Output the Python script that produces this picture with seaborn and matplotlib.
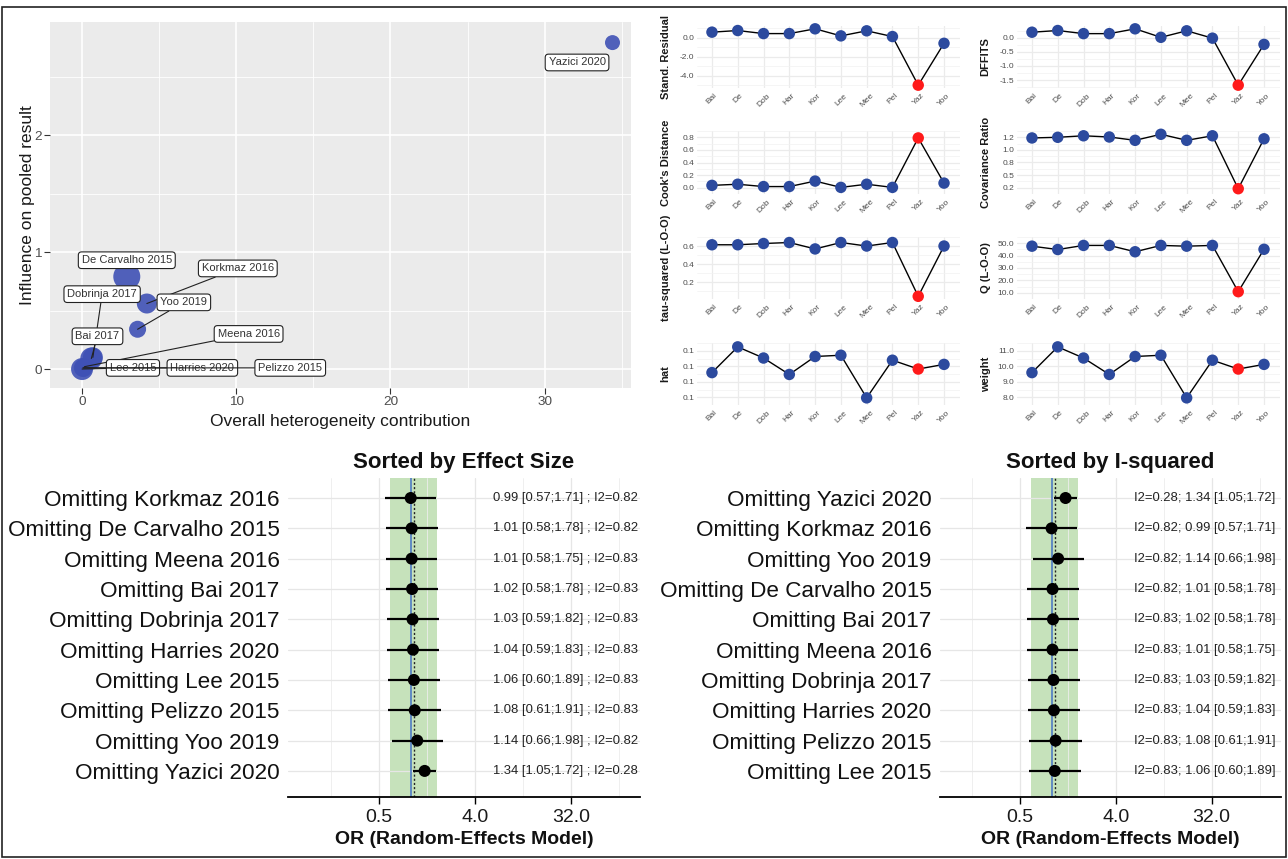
import numpy as np
import pandas as pd
import matplotlib
matplotlib.use("Agg")
import matplotlib.pyplot as plt
import seaborn as sns
from matplotlib.patches import Rectangle

sns.set_theme(style="white")
plt.rcParams['font.family'] = ['Liberation Sans', 'DejaVu Sans']

# ---------------- data ----------------
studies = ["Bai 2017", "De Carvalho 2015", "Dobrinja 2017", "Harries 2020", "Korkmaz 2016",
           "Lee 2015", "Meena 2016", "Pelizzo 2015", "Yazici 2020", "Yoo 2019"]
short_names = ["Bai", "De", "Dob", "Har", "Kor", "Lee", "Mee", "Pel", "Yaz", "Yoo"]

# Baujat plot
het_contrib = [0.6, 2.9, 0.7, 0.1, 4.2, 0.0, 0.15, 0.05, 34.4, 3.6]
influence = [0.09, 0.79, 0.10, 0.01, 0.56, 0.0, 0.02, 0.01, 2.79, 0.34]
point_weight = [22, 27, 20, 18, 20, 22, 16, 18, 15, 17]

# influence diagnostics
stand_resid = [0.57, 0.74, 0.42, 0.42, 0.92, 0.18, 0.71, 0.11, -4.99, -0.60]
dffits = [0.19, 0.25, 0.14, 0.14, 0.31, 0.01, 0.24, -0.02, -1.68, -0.24]
cooks_d = [0.037, 0.055, 0.018, 0.018, 0.105, 0.005, 0.055, 0.005, 0.79, 0.073]
cov_ratio = [1.237, 1.25, 1.28, 1.256, 1.19, 1.31, 1.19, 1.28, 0.23, 1.22]
tau2_loo = [0.614, 0.614, 0.628, 0.639, 0.568, 0.639, 0.600, 0.639, 0.044, 0.600]
q_loo = [47.6, 44.9, 48.2, 48.2, 43.1, 48.2, 47.6, 48.2, 10.9, 45.1]
hat_vals = [0.0959, 0.1125, 0.1053, 0.0947, 0.1063, 0.1071, 0.0796, 0.1039, 0.0982, 0.1012]
weight_vals = [9.59, 11.25, 10.53, 9.47, 10.63, 10.71, 7.96, 10.39, 9.82, 10.12]

# leave-one-out forest (sorted by effect size)
es_order = ["Korkmaz 2016", "De Carvalho 2015", "Meena 2016", "Bai 2017", "Dobrinja 2017",
            "Harries 2020", "Lee 2015", "Pelizzo 2015", "Yoo 2019", "Yazici 2020"]
es_or = [0.99, 1.01, 1.01, 1.02, 1.03, 1.04, 1.06, 1.08, 1.14, 1.34]
es_lo = [0.57, 0.58, 0.58, 0.58, 0.59, 0.59, 0.60, 0.61, 0.66, 1.05]
es_hi = [1.71, 1.78, 1.75, 1.78, 1.82, 1.83, 1.89, 1.91, 1.98, 1.72]
es_i2 = [0.82, 0.82, 0.83, 0.83, 0.83, 0.83, 0.83, 0.83, 0.82, 0.28]
# order sorted by I-squared
i2_order = ["Yazici 2020", "Korkmaz 2016", "Yoo 2019", "De Carvalho 2015", "Bai 2017",
            "Meena 2016", "Dobrinja 2017", "Harries 2020", "Pelizzo 2015", "Lee 2015"]
pooled_or = 1.06
pooled_lo = 0.63
pooled_hi = 1.77
null_or = 1.0

# ---------------- layout helpers ----------------
W, H = 1288, 859
fig = plt.figure(figsize=(W / 100, H / 100), dpi=100)
fig.patch.set_facecolor("white")


def add_ax(x0, y0, x1, y1):
    return fig.add_axes([x0 / W, 1 - y1 / H, (x1 - x0) / W, (y1 - y0) / H])


# ---------------- Baujat plot ----------------
ax = add_ax(50, 22, 631, 388)
ax.set_facecolor("#EBEBEB")
for sp in ax.spines.values():
    sp.set_visible(False)
sizes = (np.array(point_weight) * 0.72) ** 2
sns.scatterplot(x=het_contrib, y=influence, s=sizes, color="#3F51B5", alpha=0.9,
                edgecolor="none", legend=False, ax=ax, zorder=3)
ax.set_xlim(-2.08, 35.6)
ax.set_ylim(-0.162, 2.966)
ax.set_xticks([0, 10, 20, 30])
ax.set_xticklabels(["0", "10", "20", "30"])
ax.set_yticks([0, 1, 2])
ax.set_yticklabels(["0", "1", "2"])
ax.set_xticks([5, 15, 25, 35], minor=True)
ax.set_yticks([0.5, 1.5, 2.5], minor=True)
ax.grid(which="major", color="white", lw=1.2)
ax.grid(which="minor", color="white", lw=0.6)
ax.set_axisbelow(True)
ax.tick_params(which="major", length=4, width=0.8, color="#333333",
               labelcolor="#4D4D4D", labelsize=9.7, pad=2, bottom=True, left=True)
ax.tick_params(which="minor", length=0)
ax.set_xlabel("Overall heterogeneity contribution", fontsize=12.5, color="#1a1a1a", labelpad=4)
ax.set_ylabel("Influence on pooled result", fontsize=12.5, color="#1a1a1a", labelpad=-1)

label_pos = {
    "Yazici 2020": (32.1, 2.62),
    "De Carvalho 2015": (2.9, 0.93),
    "Korkmaz 2016": (10.1, 0.86),
    "Dobrinja 2017": (1.3, 0.64),
    "Yoo 2019": (6.6, 0.57),
    "Bai 2017": (1.0, 0.28),
    "Meena 2016": (10.8, 0.30),
    "Lee 2015": (3.3, 0.01),
    "Harries 2020": (7.8, 0.01),
    "Pelizzo 2015": (13.5, 0.01),
}
no_segment = {"Yazici 2020", "De Carvalho 2015"}
for name, (tx, ty) in label_pos.items():
    i = studies.index(name)
    kw = {}
    if name not in no_segment:
        kw["arrowprops"] = dict(arrowstyle="-", color="#222222", lw=0.8, shrinkA=0, shrinkB=0)
    ax.annotate(name, xy=(het_contrib[i], influence[i]), xytext=(tx, ty),
                ha="center", va="center", fontsize=8, color="#333333", zorder=5,
                bbox=dict(boxstyle="round,pad=0.3", fc="white", ec="#222222", lw=0.8), **kw)

# ---------------- diagnostic panels ----------------
panels = [
    ("Stand. Residual", stand_resid, [-4, -2, 0]),
    ("DFFITS", dffits, [-1.5, -1.0, -0.5, 0.0]),
    ("Cook's Distance", cooks_d, [0.0, 0.2, 0.4, 0.6, 0.8]),
    ("Covariance Ratio", cov_ratio, [0.25, 0.5, 0.75, 1.0, 1.25]),
    ("tau-squared (L-O-O)", tau2_loo, [0.2, 0.4, 0.6]),
    ("Q (L-O-O)", q_loo, [10, 20, 30, 40, 50]),
    ("hat", hat_vals, [0.08, 0.09, 0.10, 0.11]),
    ("weight", weight_vals, [8, 9, 10, 11]),
]
rows = [(26, 88), (131, 194), (237, 299), (343, 405)]
cols = [(697, 960), (1017, 1280)]
for k, (name, vals, ticks) in enumerate(panels):
    r, c = divmod(k, 2)
    ax = add_ax(cols[c][0], rows[r][0], cols[c][1], rows[r][1])
    df = pd.DataFrame({"study": short_names, "val": vals,
                       "hl": ["hi" if s == "Yaz" else "lo" for s in short_names]})
    sns.lineplot(data=df, x="study", y="val", color="black", lw=1.0, sort=False, ax=ax, zorder=2)
    sns.scatterplot(data=df, x="study", y="val", hue="hl",
                    palette={"lo": "#2C4A9E", "hi": "#FF1A1A"}, s=68, edgecolor="none",
                    legend=False, ax=ax, zorder=3, clip_on=False)
    for sp in ax.spines.values():
        sp.set_visible(False)
    vmin, vmax = min(vals), max(vals)
    pad = (vmax - vmin) * 0.05
    ax.set_ylim(vmin - pad, vmax + pad)
    ax.set_xlim(-0.58, 9.62)
    ax.set_yticks(ticks)
    ax.set_yticklabels(["%.1f" % t for t in ticks])
    step = ticks[1] - ticks[0]
    ax.set_yticks([t - step / 2 for t in ticks] + [ticks[-1] + step / 2], minor=True)
    ax.grid(which="major", color="#EBEBEB", lw=0.9)
    ax.grid(which="minor", axis="y", color="#F2F2F2", lw=0.5)
    ax.set_axisbelow(True)
    ax.tick_params(axis="both", which="both", length=0, labelsize=6, labelcolor="#4D4D4D", pad=2)
    ax.tick_params(axis="x", rotation=45, pad=3)
    for lab in ax.get_xticklabels():
        lab.set_ha("center")
    ax.set_xlabel("")
    ax.set_ylabel(name, fontsize=8, fontweight="bold", color="#1a1a1a")
    ax.yaxis.set_label_coords(-0.1, 0.5)

# ---------------- forest plots ----------------
def forest(ax, labels, ors, los, his, texts, title, xlim_log2):
    y = np.arange(len(labels))
    ax.axvspan(pooled_lo, pooled_hi, color="#C6E2BB", zorder=0, lw=0)
    ax.axvline(null_or, color="#4472C4", lw=1.1, zorder=1)
    ax.axvline(pooled_or, color="#222222", lw=1.0, ls=(0, (1.5, 1.5)), zorder=1)
    ax.hlines(y, los, his, color="black", lw=1.6, zorder=3)
    sns.scatterplot(x=ors, y=y, color="black", s=75, edgecolor="none", legend=False,
                    ax=ax, zorder=4)
    for yi, t in zip(y, texts):
        ax.text(5.9, yi, t, va="center", ha="left", fontsize=9.4, color="#222222", zorder=5)
    ax.set_xscale("log", base=2)
    ax.set_xlim(2 ** xlim_log2[0], 2 ** xlim_log2[1])
    ax.set_ylim(9.86, -0.66)
    ax.set_xticks([0.5, 4, 32])
    ax.set_xticklabels(["0.5", "4.0", "32.0"])
    ax.set_xticks([2 ** -2.5, 2 ** 0.5, 2 ** 3.5, 2 ** 6.5], minor=True)
    ax.xaxis.set_minor_formatter(plt.NullFormatter())
    ax.set_yticks(y)
    ax.set_yticklabels(labels)
    ax.grid(which="major", color="#E6E6E6", lw=0.9)
    ax.grid(which="minor", axis="x", color="#EDEDED", lw=0.6)
    ax.set_axisbelow(True)
    for s in ["top", "right", "left"]:
        ax.spines[s].set_visible(False)
    ax.spines["bottom"].set_color("black")
    ax.spines["bottom"].set_linewidth(1.3)
    ax.tick_params(axis="x", which="major", length=5, width=1.0, color="black",
                   labelsize=14, labelcolor="#1a1a1a", pad=4, bottom=True)
    ax.tick_params(axis="x", which="minor", length=0)
    ax.tick_params(axis="y", length=0, labelsize=16.2, labelcolor="#111111", pad=6)
    ax.set_xlabel("OR (Random-Effects Model)", fontsize=14, fontweight="bold",
                  color="#111111", labelpad=3)
    ax.set_title(title, fontsize=16, fontweight="bold", color="#111111", pad=7)


es_texts = ["%.2f [%.2f;%.2f] ; I2=%.2f" % (o, l, h, q)
            for o, l, h, q in zip(es_or, es_lo, es_hi, es_i2)]
axf1 = add_ax(288, 478, 640, 797)
forest(axf1, ["Omitting " + s for s in es_order], es_or, es_lo, es_hi, es_texts,
       "Sorted by Effect Size", (-3.86, 7.17))

idx = [es_order.index(s) for s in i2_order]
i2_or = [es_or[i] for i in idx]
i2_lo = [es_lo[i] for i in idx]
i2_hi = [es_hi[i] for i in idx]
i2_q = [es_i2[i] for i in idx]
i2_texts = ["I2=%.2f; %.2f [%.2f;%.2f]" % (q, o, l, h)
            for o, l, h, q in zip(i2_or, i2_lo, i2_hi, i2_q)]
axf2 = add_ax(940, 478, 1281, 797)
forest(axf2, ["Omitting " + s for s in i2_order], i2_or, i2_lo, i2_hi, i2_texts,
       "Sorted by I-squared", (-3.51, 7.17))

# frame around the whole figure
fig.add_artist(Rectangle((2 / W, 2 / H), 1 - 4 / W, 1 - 9 / H, transform=fig.transFigure,
                         fill=False, ec="#222222", lw=1.2))

fig.savefig("out.png", dpi=100)
